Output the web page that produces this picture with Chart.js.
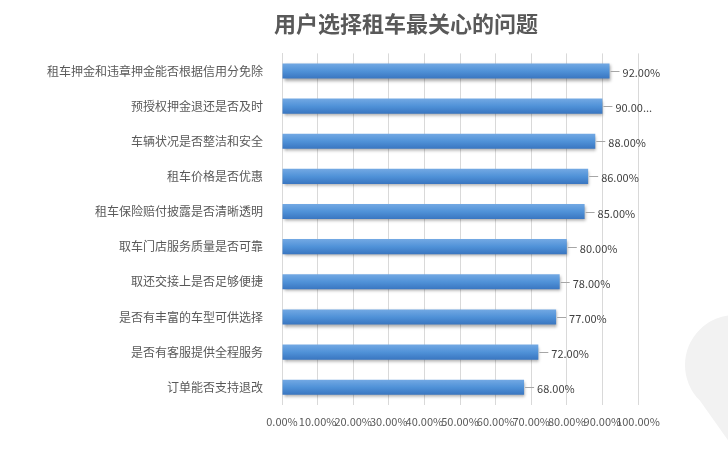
<!DOCTYPE html>
<html>
<head>
<meta charset="utf-8">
<script src="https://cdn.jsdelivr.net/npm/chart.js@4"></script>
<style>
  html, body { margin: 0; padding: 0; background: #fff; }
  #wrap { width: 728px; height: 456px; }
</style>
</head>
<body>
<div id="wrap"><canvas id="myBar"></canvas></div>
<script>
var titleText = '用户选择租车最关心的问题';
var categories = [
    '租车押金和违章押金能否根据信用分免除',
    '预授权押金退还是否及时',
    '车辆状况是否整洁和安全',
    '租车价格是否优惠',
    '租车保险赔付披露是否清晰透明',
    '取车门店服务质量是否可靠',
    '取还交接上是否足够便捷',
    '是否有丰富的车型可供选择',
    '是否有客服提供全程服务',
    '订单能否支持退改'
];
var values = [92, 90, 88, 86, 85, 80, 78, 77, 72, 68];
var valueLabels = ['92.00%', '90.00...', '88.00%', '86.00%', '85.00%', '80.00%', '78.00%', '77.00%', '72.00%', '68.00%'];

var font = '"Microsoft YaHei", "Noto Sans CJK SC", sans-serif';

// faint watermark shape in the bottom right corner
var watermark = {
    id: 'watermark',
    beforeDraw: function (chart) {
        var ctx = chart.ctx;
        ctx.save();
        ctx.fillStyle = '#f2f2f2';
        ctx.beginPath();
        ctx.arc(735, 365, 50, Math.PI * 0.75, Math.PI * 2.25);
        ctx.lineTo(735, 450);
        ctx.closePath();
        ctx.fill();
        ctx.restore();
    }
};

// the title sits a bit right of the canvas centre
var titleShift = {
    id: 'titleShift',
    afterLayout: function (chart) {
        if (chart.titleBlock) {
            chart.titleBlock.left = 84;
            chart.titleBlock.right = 728;
        }
    }
};

// shadow under the bars
var barShadow = {
    id: 'barShadow',
    beforeDatasetsDraw: function (chart) {
        var ctx = chart.ctx;
        ctx.save();
        ctx.shadowColor = 'rgba(0,0,0,0.35)';
        ctx.shadowBlur = 3;
        ctx.shadowOffsetX = 1;
        ctx.shadowOffsetY = 2;
    },
    afterDatasetsDraw: function (chart) {
        chart.ctx.restore();
    }
};

// value labels with short leader lines
var valueTags = {
    id: 'valueTags',
    afterDatasetsDraw: function (chart) {
        var ctx = chart.ctx;
        var meta = chart.getDatasetMeta(0);
        ctx.save();
        ctx.font = '11px ' + font;
        ctx.fillStyle = '#404040';
        ctx.textBaseline = 'middle';
        ctx.strokeStyle = '#a6a6a6';
        ctx.lineWidth = 1;
        meta.data.forEach(function (bar, i) {
            var x = bar.x;
            var y = Math.round(bar.y) + 0.5;
            ctx.beginPath();
            ctx.moveTo(x + 1, y);
            ctx.lineTo(x + 10, y);
            ctx.stroke();
            ctx.fillText(valueLabels[i], x + 13, y + 1);
        });
        ctx.restore();
    }
};

var ctx = document.getElementById('myBar').getContext('2d');
var barChart = new Chart(ctx, {
    type: 'bar',
    data: {
        labels: categories,
        datasets: [{
            data: values,
            backgroundColor: function (c) {
                var yScale = c.chart.scales.y;
                if (!yScale || c.dataIndex === undefined) return '#4a8bd3';
                var cy = yScale.getPixelForValue(c.dataIndex);
                if (!isFinite(cy)) return '#4a8bd3';
                var g = c.chart.ctx.createLinearGradient(0, cy - 8, 0, cy + 8);
                g.addColorStop(0, '#75aae4');
                g.addColorStop(0.5, '#5092d8');
                g.addColorStop(1, '#3874bf');
                return g;
            },
            borderWidth: 0,
            barPercentage: 0.43,
            categoryPercentage: 1
        }]
    },
    options: {
        indexAxis: 'y',
        responsive: true,
        maintainAspectRatio: false,
        animation: false,
        layout: {
            padding: { left: 0, right: 90, top: 0, bottom: 24 }
        },
        plugins: {
            legend: { display: false },
            tooltip: { enabled: false },
            title: {
                display: true,
                text: titleText,
                color: '#595959',
                font: { size: 22, weight: 'bold', family: font },
                padding: { top: 10, bottom: 17 }
            }
        },
        scales: {
            x: {
                min: 0,
                max: 100,
                ticks: {
                    stepSize: 10,
                    autoSkip: false,
                    maxRotation: 0,
                    color: '#595959',
                    font: { size: 11, family: font },
                    padding: 4,
                    callback: function (v) { return v.toFixed(2) + '%'; }
                },
                grid: { color: '#d9d9d9', tickLength: 6, tickColor: '#ffffff' },
                border: { display: false }
            },
            y: {
                ticks: {
                    color: '#595959',
                    font: { size: 12, family: font },
                    padding: 11
                },
                grid: { display: false },
                border: { display: true, color: '#d9d9d9' },
                afterFit: function (scale) { scale.width = 282; }
            }
        }
    },
    plugins: [watermark, titleShift, barShadow, valueTags]
});
</script>
</body>
</html>
